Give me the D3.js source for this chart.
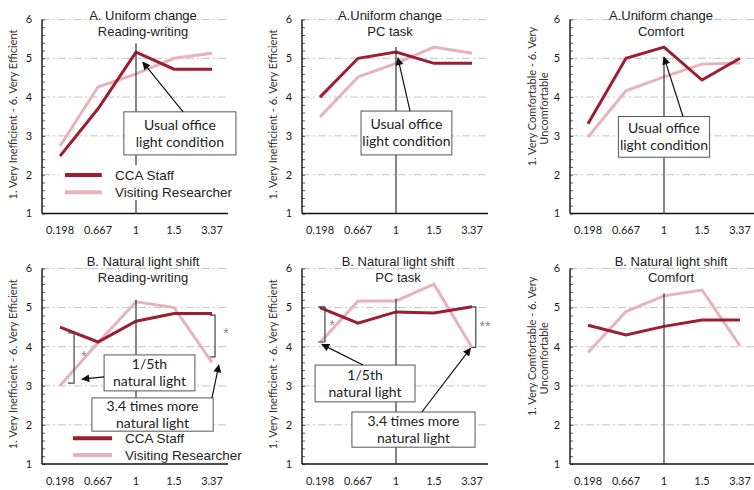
<!DOCTYPE html>
<html>
<head>
<meta charset="utf-8">
<script src="https://cdnjs.cloudflare.com/ajax/libs/d3/7.8.5/d3.min.js"></script>
<style>
    body { margin: 0; background: #fff; }
    svg { display: block; }
    .grid { stroke: #c4c4c4; stroke-width: 1; stroke-dasharray: 8,3,2,3; }
    .axis-line { stroke: #111; stroke-width: 1.4; }
    .tick-label { font-family: Lato, "Open Sans", sans-serif; font-size: 11px; fill: #1a1a1a; }
    .y-label { font-family: Lato, "Open Sans", sans-serif; font-size: 11px; fill: #333; }
    .title { font-family: "Liberation Sans", Arial, sans-serif; font-size: 13px; fill: #222; }
    .legend-text { font-family: "Liberation Sans", Arial, sans-serif; font-size: 13.5px; fill: #222; }
    .box rect { fill: #fff; stroke: #555; stroke-width: 1; }
    .box text { font-family: Lato, "Open Sans", sans-serif; font-size: 14px; fill: #222; }
    .star { font-family: "Liberation Sans", Arial, sans-serif; font-size: 14px; fill: #888; }
</style>
</head>
<body>
<script>
// Light level categories (x axis)
var categories = ["0.198", "0.667", "1", "1.5", "3.37"];
var yTicks = [1, 2, 3, 4, 5, 6];
var seriesNames = ["CCA Staff", "Visiting Researcher"];

// A. Uniform change
var uniformReadingCCA = [2.48, 3.7, 5.16, 4.72, 4.72];
var uniformReadingVisit = [2.74, 4.26, 4.6, 5.0, 5.13];
var uniformPcCCA = [4.0, 5.0, 5.16, 4.87, 4.87];
var uniformPcVisit = [3.49, 4.52, 4.87, 5.29, 5.13];
var uniformComfortCCA = [3.31, 5.0, 5.29, 4.44, 5.0];
var uniformComfortVisit = [2.97, 4.16, 4.52, 4.85, 4.88];

// B. Natural light shift
var shiftReadingCCA = [4.5, 4.12, 4.65, 4.85, 4.85];
var shiftReadingVisit = [3.0, 4.1, 5.15, 5.0, 3.6];
var shiftPcCCA = [5.0, 4.6, 4.89, 4.86, 5.02];
var shiftPcVisit = [4.1, 5.17, 5.17, 5.6, 3.98];
var shiftComfortCCA = [4.55, 4.3, 4.52, 4.68, 4.68];
var shiftComfortVisit = [3.85, 4.9, 5.3, 5.45, 4.02];

var efficiencyLabel = ["1. Very Inefficient - 6. Very Efficient"];
var comfortLabel = ["1. Very Comfortable - 6. Very", "Uncomfortable"];
var usualOffice = ["Usual office", "light condition"];
var fifthLight = ["1/5th", "natural light"];
var moreLight = ["3.4 times more", "natural light"];

var colorCCA = "#9d1d31",
    colorVisit = "#e7b3ba";

// grid layout: y-axis x position per column, y extent per row
var colX = [42, 302, 570];
var rows = [{ top: 19.5, bottom: 213.5, titleY: [15, 31] },
            { top: 268.5, bottom: 464, titleY: [261, 277] }];

var panels = [
    { col: 0, row: 0, title: ["A. Uniform change", "Reading-writing"], titleDx: 101, yLabel: efficiencyLabel,
      cca: uniformReadingCCA, visit: uniformReadingVisit, vTop: 5.39,
      boxes: [{ i0: 1.68, i1: 4.63, v0: 3.62, v1: 2.51, text: usualOffice }],
      arrows: [{ from: [3.24, 3.62], to: [2.18, 4.9] }],
      legend: { i0: 0.13, i1: 1.1, iText: 1.45, v: [1.99, 1.55] } },
    { col: 1, row: 0, title: ["A.Uniform change", "PC task"], titleDx: 88, yLabel: efficiencyLabel,
      cca: uniformPcCCA, visit: uniformPcVisit, vTop: 5.29,
      boxes: [{ i0: 1.08, i1: 3.47, v0: 3.64, v1: 2.51, text: usualOffice }],
      arrows: [{ from: [2.37, 3.64], to: [2.05, 5.01] }] },
    { col: 2, row: 0, title: ["A.Uniform change", "Comfort"], titleDx: 91, yLabel: comfortLabel,
      cca: uniformComfortCCA, visit: uniformComfortVisit, vTop: 5.03,
      boxes: [{ i0: 0.8, i1: 3.2, v0: 3.5, v1: 2.45, text: usualOffice }],
      arrows: [{ from: [2.5, 3.5], to: [2.0, 5.03] }] },
    { col: 0, row: 1, title: ["B. Natural light shift", "Reading-writing"], titleDx: 101, yLabel: efficiencyLabel,
      cca: shiftReadingCCA, visit: shiftReadingVisit, vTop: 5.2,
      legend: { i0: 0.34, i1: 1.37, iText: 1.71, v: [1.66, 1.23] },
      boxes: [{ i0: 1.16, i1: 3.55, v0: 3.79, v1: 2.87, text: fifthLight },
              { i0: 0.84, i1: 4.03, v0: 2.69, v1: 1.84, text: moreLight }],
      brackets: [{ i: 0.37, iTick: 0.21, v0: 4.35, v1: 3.07 }, { i: 4.08, iTick: 3.95, v0: 4.81, v1: 3.74 }],
      stars: [{ i: 0.63, v: 3.76, s: "*" }, { i: 4.37, v: 4.35, s: "*" }],
      arrows: [{ from: [1.16, 3.23], to: [0.58, 3.17] }, { from: [4.0, 2.69], to: [4.18, 3.53] }] },
    { col: 1, row: 1, title: ["B. Natural light shift", "PC task"], titleDx: 96, yLabel: efficiencyLabel,
      cca: shiftPcCCA, visit: shiftPcVisit, vTop: 5.23,
      boxes: [{ i0: -0.13, i1: 2.5, v0: 3.53, v1: 2.59, text: fifthLight },
              { i0: 0.84, i1: 4.08, v0: 2.33, v1: 1.43, text: moreLight }],
      brackets: [{ i: 0.13, iTick: -0.05, v0: 5.02, v1: 4.12 }, { i: 4.1, iTick: 3.98, v0: 5.02, v1: 3.98 }],
      stars: [{ i: 0.32, v: 4.55, s: "*" }, { i: 4.34, v: 4.52, s: "**" }],
      arrows: [{ from: [1.13, 3.53], to: [0.05, 4.06] }, { from: [2.68, 2.33], to: [3.96, 3.96] }] },
    { col: 2, row: 1, title: ["B. Natural light shift", "Comfort"], titleDx: 101, yLabel: comfortLabel,
      cca: shiftComfortCCA, visit: shiftComfortVisit, vTop: 5.37 }
];

var svg = d3.select("body").append("svg")
    .attr("width", 754)
    .attr("height", 490);

svg.append("defs").append("marker")
    .attr("id", "arrow")
    .attr("viewBox", "0 0 10 10")
    .attr("refX", 9)
    .attr("refY", 5)
    .attr("markerWidth", 9)
    .attr("markerHeight", 8)
    .attr("markerUnits", "userSpaceOnUse")
    .attr("orient", "auto")
    .append("path")
    .attr("d", "M0,0 L10,5 L0,10 z")
    .attr("fill", "#111");

panels.forEach(drawPanel);

function drawPanel(p) {
    var ax = colX[p.col],
        row = rows[p.row],
        axisEnd = ax + 186;

    var x = d3.scalePoint().domain(categories).range([ax + 18, ax + 170]);
    // fractional category index, for annotations placed between categories
    var xi = d3.scaleLinear().domain([0, categories.length - 1]).range([ax + 18, ax + 170]);
    var y = d3.scaleLinear().domain([1, 6]).range([row.bottom, row.top]);

    var g = svg.append("g");

    // dashed gridlines
    g.selectAll(".grid")
        .data(yTicks.slice(1))
        .enter().append("line")
        .attr("class", "grid")
        .attr("x1", ax).attr("x2", axisEnd)
        .attr("y1", function(d) { return y(d); })
        .attr("y2", function(d) { return y(d); });

    // y axis with minor ticks
    var yAxis = d3.axisLeft(y)
        .tickValues(d3.range(1, 6.01, 0.2))
        .tickSize(-3)
        .tickFormat("");
    var ya = g.append("g")
        .attr("transform", "translate(" + ax + ",0)")
        .call(yAxis);
    ya.select(".domain").remove();
    ya.selectAll(".tick line").attr("stroke", "#333").attr("stroke-width", 0.8);

    g.append("line").attr("class", "axis-line")
        .attr("x1", ax).attr("x2", ax).attr("y1", y(6)).attr("y2", y(1));
    g.append("line").attr("class", "axis-line")
        .attr("x1", ax).attr("x2", axisEnd).attr("y1", y(1)).attr("y2", y(1));

    g.selectAll(".ytl")
        .data(yTicks)
        .enter().append("text")
        .attr("class", "tick-label")
        .attr("x", ax - 13)
        .attr("y", function(d) { return y(d); })
        .attr("dy", "0.35em")
        .attr("text-anchor", "middle")
        .text(function(d) { return d; });

    g.selectAll(".xtl")
        .data(categories)
        .enter().append("text")
        .attr("class", "tick-label")
        .attr("x", function(d) { return x(d); })
        .attr("y", y(1) + 17)
        .attr("dy", "0.35em")
        .attr("text-anchor", "middle")
        .text(function(d) { return d; });

    // y axis title, one or two lines
    var nl = p.yLabel.length;
    p.yLabel.forEach(function(t, k) {
        var lx = nl == 1 ? ax - 29 : ax - 38 + k * 12;
        var ly = (row.top + row.bottom) / 2 - (nl == 1 ? 2 : 20 - k * 12);
        g.append("text")
            .attr("class", "y-label")
            .attr("transform", "translate(" + lx + "," + ly + ") rotate(-90)")
            .attr("dy", "0.35em")
            .attr("text-anchor", "middle")
            .text(t);
    });

    // panel titles
    p.title.forEach(function(t, k) {
        g.append("text")
            .attr("class", "title")
            .attr("x", ax + p.titleDx)
            .attr("y", row.titleY[k])
            .attr("dy", "0.35em")
            .attr("text-anchor", "middle")
            .text(t);
    });

    var line = d3.line()
        .x(function(d, i) { return x(categories[i]); })
        .y(function(d) { return y(d); });

    g.append("path")
        .attr("d", line(p.visit))
        .attr("fill", "none")
        .attr("stroke", colorVisit)
        .attr("stroke-width", 3);

    g.append("path")
        .attr("d", line(p.cca))
        .attr("fill", "none")
        .attr("stroke", colorCCA)
        .attr("stroke-width", 3);

    // usual office condition marker at 1
    g.append("line")
        .attr("x1", x("1")).attr("x2", x("1"))
        .attr("y1", y(p.vTop)).attr("y2", y(1))
        .attr("stroke", "#333")
        .attr("stroke-width", 1.2);

    if (p.legend) {
        var lg = p.legend;
        g.append("rect")
            .attr("x", xi(lg.i0) - 6)
            .attr("y", y(lg.v[0]) - 10)
            .attr("width", xi(lg.iText) - xi(lg.i0) + 130)
            .attr("height", y(lg.v[1]) - y(lg.v[0]) + 18)
            .attr("fill", "#fff");
        [colorCCA, colorVisit].forEach(function(c, k) {
            g.append("line")
                .attr("x1", xi(lg.i0)).attr("x2", xi(lg.i1))
                .attr("y1", y(lg.v[k])).attr("y2", y(lg.v[k]))
                .attr("stroke", c)
                .attr("stroke-width", 4);
            g.append("text")
                .attr("class", "legend-text")
                .attr("x", xi(lg.iText))
                .attr("y", y(lg.v[k]))
                .attr("dy", "0.35em")
                .text(seriesNames[k]);
        });
    }

    (p.brackets || []).forEach(function(b) {
        g.append("path")
            .attr("d", "M" + xi(b.iTick) + "," + y(b.v0) + "H" + xi(b.i) + "V" + y(b.v1) + "H" + xi(b.iTick))
            .attr("fill", "none")
            .attr("stroke", "#444")
            .attr("stroke-width", 1.2);
    });

    (p.stars || []).forEach(function(s) {
        g.append("text")
            .attr("class", "star")
            .attr("x", xi(s.i))
            .attr("y", y(s.v) + 5)
            .attr("text-anchor", "middle")
            .text(s.s);
    });

    (p.boxes || []).forEach(function(b) {
        var bg = g.append("g").attr("class", "box");
        bg.append("rect")
            .attr("x", xi(b.i0))
            .attr("y", y(b.v0))
            .attr("width", xi(b.i1) - xi(b.i0))
            .attr("height", y(b.v1) - y(b.v0));
        var cx = (xi(b.i0) + xi(b.i1)) / 2,
            cy = (y(b.v0) + y(b.v1)) / 2;
        b.text.forEach(function(t, k) {
            bg.append("text")
                .attr("x", cx)
                .attr("y", cy + (k - (b.text.length - 1) / 2) * 17)
                .attr("dy", "0.35em")
                .attr("text-anchor", "middle")
                .text(t);
        });
    });

    (p.arrows || []).forEach(function(a) {
        g.append("line")
            .attr("x1", xi(a.from[0])).attr("y1", y(a.from[1]))
            .attr("x2", xi(a.to[0])).attr("y2", y(a.to[1]))
            .attr("stroke", "#111")
            .attr("stroke-width", 1.2)
            .attr("marker-end", "url(#arrow)");
    });
}
</script>
</body>
</html>
